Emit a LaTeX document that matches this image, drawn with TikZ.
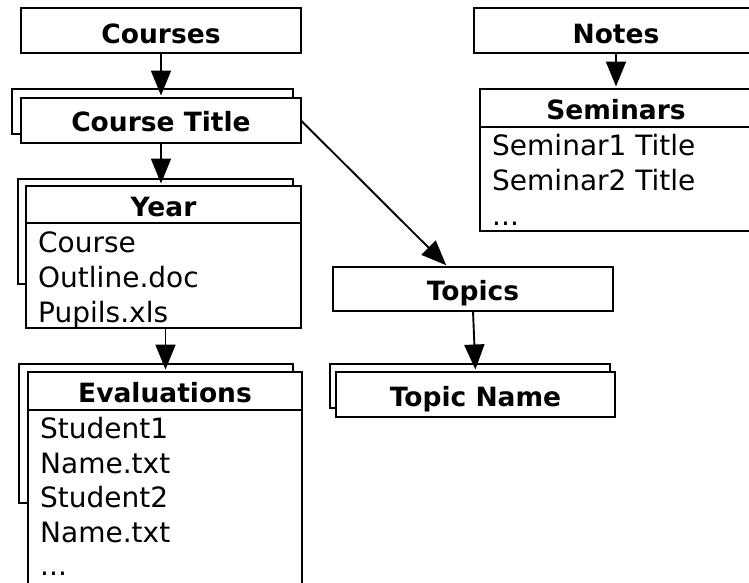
\documentclass[tikz,border=0pt]{standalone}
\usepackage{fontspec}
\setmainfont{DejaVu Sans}
\usetikzlibrary{arrows.meta,calc}

\begin{document}
\begin{tikzpicture}[x=1pt,y=-1pt,
  box/.style={draw, line width=2.3pt, fill=white, inner sep=0pt, outer sep=0pt, anchor=north west},
  ttl/.style={anchor=base, inner sep=0pt, font=\fontsize{26.5}{30}\selectfont\bfseries},
  itm/.style={anchor=base west, inner sep=0pt, font=\fontsize{28}{34}\selectfont},
  link/.style={line width=1.9pt, -{Triangle[length=25pt,width=20pt]}, shorten >=2.5pt},
  divider/.style={line width=2.3pt},
]
\useasboundingbox (0,0) rectangle (749,582);
\clip (0,0) rectangle (749,582);

% ---- Courses branch ----
\node[box, minimum width=280, minimum height=45] (courses) at (21,8) {};
\node[ttl] (coursesT) at ($(courses.north)+(0,35)$) {Courses};

\node[box, minimum width=281, minimum height=45] (ctback) at (12,89) {};
\node[box, minimum width=280, minimum height=45] (ct) at (21,98) {};
\node[ttl] (ctT) at ($(ct.north)+(0,33)$) {Course Title};

\node[box, minimum width=275, minimum height=105] (yearback) at (18,179) {};
\node[box, minimum width=275, minimum height=142] (year) at (26,186) {};
\draw[divider] ($(year.north west)+(0,37)$) -- ($(year.north east)+(0,37)$);
\node[ttl] (yearT) at ($(year.north)+(0,30)$) {Year};
\node[itm] (y1) at ($(year.north west)+(12,66)$) {Course};
\node[itm] (y2) at ($(year.north west)+(12,101)$) {Outline.doc};
\node[itm] (y3) at ($(year.north west)+(12,136)$) {Pupils.xls};

\node[box, minimum width=274, minimum height=139] (evalback) at (19,364) {};
\node[box, minimum width=274, minimum height=230] (eval) at (28,372) {};
\draw[divider] ($(eval.north west)+(0,38)$) -- ($(eval.north east)+(0,38)$);
\node[ttl] (evalT) at ($(eval.north)+(0,30)$) {Evaluations};
\node[itm] (e1) at ($(eval.north west)+(12,66)$) {Student1};
\node[itm] (e2) at ($(eval.north west)+(12,101)$) {Name.txt};
\node[itm] (e3) at ($(eval.north west)+(12,135)$) {Student2};
\node[itm] (e4) at ($(eval.north west)+(12,170)$) {Name.txt};
\node[itm] (e5) at ($(eval.north west)+(12,203)$) {...};

% ---- Topics branch ----
\node[box, minimum width=280, minimum height=44] (topics) at (333,267) {};
\node[ttl] (topicsT) at ($(topics.north)+(0,33)$) {Topics};

\node[box, minimum width=280, minimum height=44] (tnback) at (330,364) {};
\node[box, minimum width=279, minimum height=45] (tn) at (336,372) {};
\node[ttl] (tnT) at ($(tn.north)+(0,34)$) {Topic Name};

% ---- Notes branch ----
\node[box, minimum width=280, minimum height=45] (notes) at (474,8) {};
\node[ttl] (notesT) at ($(notes.north west)+(142,35)$) {Notes};

\node[box, minimum width=280, minimum height=142] (sem) at (480,89) {};
\draw[divider] ($(sem.north west)+(0,38)$) -- ($(sem.north east)+(0,38)$);
\node[ttl] (semT) at ($(sem.north west)+(136,30)$) {Seminars};
\node[itm] (s1) at ($(sem.north west)+(12,66)$) {Seminar1 Title};
\node[itm] (s2) at ($(sem.north west)+(12,101)$) {Seminar2 Title};
\node[itm] (s3) at ($(sem.north west)+(12,136)$) {...};

% ---- connectors ----
\draw[link] (courses.south) -- (courses.south |- ct.north);
\draw[link] (ct.south) -- (ct.south |- year.north);
\draw[link] ([xshift=2pt]year.south) -- ([xshift=2pt]year.south |- eval.north);
\draw[link] (ct.east) -- ([xshift=-25pt]topics.north);
\draw[link] (topics.south) -- (tn.north);
\draw[link] ([xshift=142pt]notes.north west |- notes.south) -- ([xshift=142pt]notes.north west |- sem.north);
\end{tikzpicture}
\end{document}
